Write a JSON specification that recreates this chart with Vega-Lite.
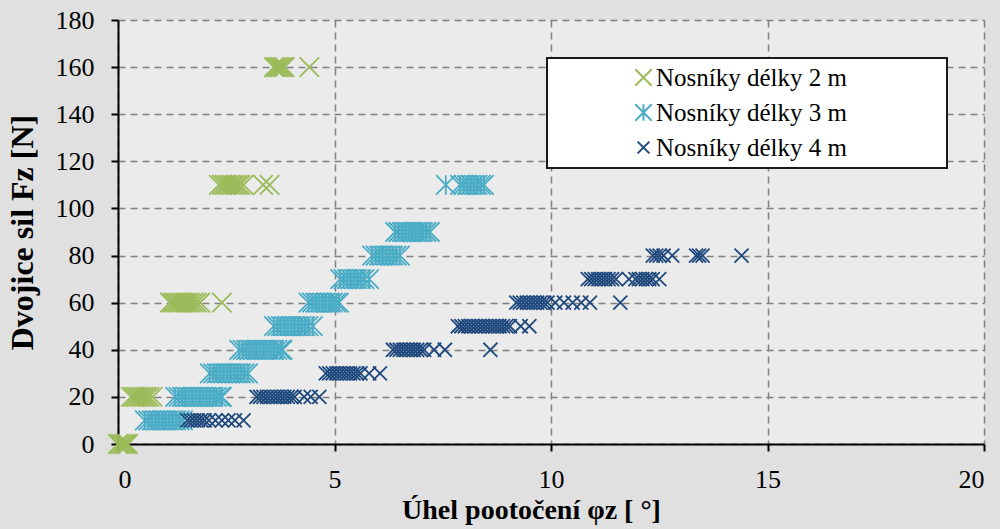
{
  "$schema": "https://vega.github.io/schema/vega-lite/v6.json",
  "width": 866,
  "height": 424,
  "autosize": {"type": "none"},
  "padding": {"left": 118, "top": 20, "right": 16, "bottom": 85},
  "background": "#e0e0e0",
  "datasets": {
    "pts": [
      {"s":"2","x":0,"y":0},{"s":"2","x":0.06,"y":0},{"s":"2","x":0.12,"y":0},{"s":"2","x":0.18,"y":0},{"s":"2","x":0.23,"y":0},
      {"s":"2","x":0.3,"y":20},{"s":"2","x":0.36,"y":20},{"s":"2","x":0.42,"y":20},{"s":"2","x":0.48,"y":20},{"s":"2","x":0.54,"y":20},{"s":"2","x":0.6,"y":20},{"s":"2","x":0.66,"y":20},{"s":"2","x":0.72,"y":20},{"s":"2","x":0.8,"y":20},
      {"s":"2","x":1.2,"y":60},{"s":"2","x":1.26,"y":60},{"s":"2","x":1.32,"y":60},{"s":"2","x":1.38,"y":60},{"s":"2","x":1.44,"y":60},{"s":"2","x":1.5,"y":60},{"s":"2","x":1.56,"y":60},{"s":"2","x":1.62,"y":60},{"s":"2","x":1.68,"y":60},{"s":"2","x":1.75,"y":60},{"s":"2","x":1.82,"y":60},{"s":"2","x":1.9,"y":60},{"s":"2","x":2.4,"y":60},
      {"s":"2","x":2.33,"y":110},{"s":"2","x":2.4,"y":110},{"s":"2","x":2.46,"y":110},{"s":"2","x":2.52,"y":110},{"s":"2","x":2.58,"y":110},{"s":"2","x":2.64,"y":110},{"s":"2","x":2.7,"y":110},{"s":"2","x":2.76,"y":110},{"s":"2","x":2.82,"y":110},{"s":"2","x":2.9,"y":110},{"s":"2","x":3.35,"y":110},{"s":"2","x":3.5,"y":110},
      {"s":"2","x":3.6,"y":160},{"s":"2","x":3.65,"y":160},{"s":"2","x":3.7,"y":160},{"s":"2","x":3.75,"y":160},{"s":"2","x":3.8,"y":160},{"s":"2","x":3.85,"y":160},{"s":"2","x":4.42,"y":160},

      {"s":"3","x":0.62,"y":10},{"s":"3","x":0.7,"y":10},{"s":"3","x":0.78,"y":10},{"s":"3","x":0.86,"y":10},{"s":"3","x":0.94,"y":10},{"s":"3","x":1.02,"y":10},{"s":"3","x":1.1,"y":10},{"s":"3","x":1.18,"y":10},{"s":"3","x":1.26,"y":10},{"s":"3","x":1.34,"y":10},{"s":"3","x":1.42,"y":10},{"s":"3","x":1.5,"y":10},
      {"s":"3","x":1.32,"y":20},{"s":"3","x":1.4,"y":20},{"s":"3","x":1.48,"y":20},{"s":"3","x":1.56,"y":20},{"s":"3","x":1.64,"y":20},{"s":"3","x":1.72,"y":20},{"s":"3","x":1.8,"y":20},{"s":"3","x":1.88,"y":20},{"s":"3","x":1.96,"y":20},{"s":"3","x":2.04,"y":20},{"s":"3","x":2.12,"y":20},{"s":"3","x":2.2,"y":20},{"s":"3","x":2.28,"y":20},{"s":"3","x":2.36,"y":20},{"s":"3","x":2.4,"y":20},
      {"s":"3","x":2.12,"y":30},{"s":"3","x":2.2,"y":30},{"s":"3","x":2.28,"y":30},{"s":"3","x":2.36,"y":30},{"s":"3","x":2.44,"y":30},{"s":"3","x":2.52,"y":30},{"s":"3","x":2.6,"y":30},{"s":"3","x":2.68,"y":30},{"s":"3","x":2.76,"y":30},{"s":"3","x":2.84,"y":30},{"s":"3","x":2.92,"y":30},{"s":"3","x":3.0,"y":30},
      {"s":"3","x":2.8,"y":40},{"s":"3","x":2.88,"y":40},{"s":"3","x":2.96,"y":40},{"s":"3","x":3.04,"y":40},{"s":"3","x":3.12,"y":40},{"s":"3","x":3.2,"y":40},{"s":"3","x":3.28,"y":40},{"s":"3","x":3.36,"y":40},{"s":"3","x":3.44,"y":40},{"s":"3","x":3.52,"y":40},{"s":"3","x":3.6,"y":40},{"s":"3","x":3.68,"y":40},{"s":"3","x":3.76,"y":40},{"s":"3","x":3.8,"y":40},
      {"s":"3","x":3.6,"y":50},{"s":"3","x":3.68,"y":50},{"s":"3","x":3.76,"y":50},{"s":"3","x":3.84,"y":50},{"s":"3","x":3.92,"y":50},{"s":"3","x":4.0,"y":50},{"s":"3","x":4.08,"y":50},{"s":"3","x":4.16,"y":50},{"s":"3","x":4.24,"y":50},{"s":"3","x":4.32,"y":50},{"s":"3","x":4.4,"y":50},{"s":"3","x":4.5,"y":50},
      {"s":"3","x":4.4,"y":60},{"s":"3","x":4.48,"y":60},{"s":"3","x":4.56,"y":60},{"s":"3","x":4.64,"y":60},{"s":"3","x":4.72,"y":60},{"s":"3","x":4.8,"y":60},{"s":"3","x":4.88,"y":60},{"s":"3","x":4.96,"y":60},{"s":"3","x":5.04,"y":60},{"s":"3","x":5.1,"y":60},
      {"s":"3","x":5.13,"y":70},{"s":"3","x":5.21,"y":70},{"s":"3","x":5.29,"y":70},{"s":"3","x":5.37,"y":70},{"s":"3","x":5.45,"y":70},{"s":"3","x":5.53,"y":70},{"s":"3","x":5.61,"y":70},{"s":"3","x":5.69,"y":70},{"s":"3","x":5.8,"y":70},
      {"s":"3","x":5.87,"y":80},{"s":"3","x":5.95,"y":80},{"s":"3","x":6.03,"y":80},{"s":"3","x":6.11,"y":80},{"s":"3","x":6.19,"y":80},{"s":"3","x":6.27,"y":80},{"s":"3","x":6.35,"y":80},{"s":"3","x":6.43,"y":80},{"s":"3","x":6.51,"y":80},
      {"s":"3","x":6.4,"y":90},{"s":"3","x":6.48,"y":90},{"s":"3","x":6.56,"y":90},{"s":"3","x":6.64,"y":90},{"s":"3","x":6.72,"y":90},{"s":"3","x":6.8,"y":90},{"s":"3","x":6.88,"y":90},{"s":"3","x":6.96,"y":90},{"s":"3","x":7.04,"y":90},{"s":"3","x":7.12,"y":90},{"s":"3","x":7.2,"y":90},
      {"s":"3","x":7.57,"y":110},{"s":"3","x":7.9,"y":110},{"s":"3","x":7.98,"y":110},{"s":"3","x":8.06,"y":110},{"s":"3","x":8.14,"y":110},{"s":"3","x":8.22,"y":110},{"s":"3","x":8.3,"y":110},{"s":"3","x":8.38,"y":110},{"s":"3","x":8.45,"y":110},

      {"s":"4","x":1.6,"y":10},{"s":"4","x":1.68,"y":10},{"s":"4","x":1.76,"y":10},{"s":"4","x":1.84,"y":10},{"s":"4","x":1.92,"y":10},{"s":"4","x":2.0,"y":10},{"s":"4","x":2.1,"y":10},{"s":"4","x":2.25,"y":10},{"s":"4","x":2.4,"y":10},{"s":"4","x":2.55,"y":10},{"s":"4","x":2.7,"y":10},{"s":"4","x":2.9,"y":10},
      {"s":"4","x":3.2,"y":20},{"s":"4","x":3.28,"y":20},{"s":"4","x":3.36,"y":20},{"s":"4","x":3.44,"y":20},{"s":"4","x":3.52,"y":20},{"s":"4","x":3.6,"y":20},{"s":"4","x":3.68,"y":20},{"s":"4","x":3.76,"y":20},{"s":"4","x":3.84,"y":20},{"s":"4","x":3.92,"y":20},{"s":"4","x":4.0,"y":20},{"s":"4","x":4.08,"y":20},{"s":"4","x":4.3,"y":20},{"s":"4","x":4.45,"y":20},{"s":"4","x":4.65,"y":20},
      {"s":"4","x":4.8,"y":30},{"s":"4","x":4.88,"y":30},{"s":"4","x":4.96,"y":30},{"s":"4","x":5.04,"y":30},{"s":"4","x":5.12,"y":30},{"s":"4","x":5.2,"y":30},{"s":"4","x":5.28,"y":30},{"s":"4","x":5.36,"y":30},{"s":"4","x":5.44,"y":30},{"s":"4","x":5.52,"y":30},{"s":"4","x":5.6,"y":30},{"s":"4","x":5.8,"y":30},{"s":"4","x":6.05,"y":30},
      {"s":"4","x":6.35,"y":40},{"s":"4","x":6.43,"y":40},{"s":"4","x":6.51,"y":40},{"s":"4","x":6.59,"y":40},{"s":"4","x":6.67,"y":40},{"s":"4","x":6.75,"y":40},{"s":"4","x":6.83,"y":40},{"s":"4","x":6.91,"y":40},{"s":"4","x":6.99,"y":40},{"s":"4","x":7.07,"y":40},{"s":"4","x":7.3,"y":40},{"s":"4","x":7.55,"y":40},{"s":"4","x":8.6,"y":40},
      {"s":"4","x":7.85,"y":50},{"s":"4","x":7.93,"y":50},{"s":"4","x":8.01,"y":50},{"s":"4","x":8.09,"y":50},{"s":"4","x":8.17,"y":50},{"s":"4","x":8.25,"y":50},{"s":"4","x":8.33,"y":50},{"s":"4","x":8.41,"y":50},{"s":"4","x":8.49,"y":50},{"s":"4","x":8.57,"y":50},{"s":"4","x":8.65,"y":50},{"s":"4","x":8.73,"y":50},{"s":"4","x":8.81,"y":50},{"s":"4","x":8.89,"y":50},{"s":"4","x":8.97,"y":50},{"s":"4","x":9.05,"y":50},{"s":"4","x":9.3,"y":50},{"s":"4","x":9.5,"y":50},
      {"s":"4","x":9.2,"y":60},{"s":"4","x":9.28,"y":60},{"s":"4","x":9.36,"y":60},{"s":"4","x":9.44,"y":60},{"s":"4","x":9.52,"y":60},{"s":"4","x":9.6,"y":60},{"s":"4","x":9.68,"y":60},{"s":"4","x":9.76,"y":60},{"s":"4","x":9.84,"y":60},{"s":"4","x":9.92,"y":60},{"s":"4","x":10.1,"y":60},{"s":"4","x":10.3,"y":60},{"s":"4","x":10.5,"y":60},{"s":"4","x":10.7,"y":60},{"s":"4","x":10.9,"y":60},{"s":"4","x":11.6,"y":60},
      {"s":"4","x":10.85,"y":70},{"s":"4","x":10.93,"y":70},{"s":"4","x":11.01,"y":70},{"s":"4","x":11.09,"y":70},{"s":"4","x":11.17,"y":70},{"s":"4","x":11.25,"y":70},{"s":"4","x":11.33,"y":70},{"s":"4","x":11.41,"y":70},{"s":"4","x":11.5,"y":70},{"s":"4","x":11.8,"y":70},{"s":"4","x":11.95,"y":70},{"s":"4","x":12.03,"y":70},{"s":"4","x":12.11,"y":70},{"s":"4","x":12.19,"y":70},{"s":"4","x":12.27,"y":70},{"s":"4","x":12.35,"y":70},{"s":"4","x":12.5,"y":70},
      {"s":"4","x":12.35,"y":80},{"s":"4","x":12.43,"y":80},{"s":"4","x":12.51,"y":80},{"s":"4","x":12.6,"y":80},{"s":"4","x":12.8,"y":80},{"s":"4","x":13.35,"y":80},{"s":"4","x":13.42,"y":80},{"s":"4","x":13.5,"y":80},{"s":"4","x":14.4,"y":80}
    ]
  },
  "data": {"name": "pts"},
  "mark": {"type": "point", "filled": false, "strokeWidth": 1.8, "opacity": 1, "size": 380},
  "encoding": {
    "x": {
      "field": "x", "type": "quantitative",
      "scale": {"domain": [0, 20], "nice": false, "zero": false},
      "axis": {"values": [0, 5, 10, 15, 20], "title": "Úhel pootočení φz [ °]", "labelPadding": 15, "titlePadding": 4, "titleFontSize": 28, "titleX": 413}
    },
    "y": {
      "field": "y", "type": "quantitative",
      "scale": {"domain": [0, 180], "nice": false},
      "axis": {"values": [0, 20, 40, 60, 80, 100, 120, 140, 160, 180], "title": "Dvojice sil Fz [N]", "labelPadding": 17, "titlePadding": 16, "titleFontSize": 32}
    },
    "color": {
      "field": "s", "type": "nominal",
      "scale": {"domain": ["2", "3", "4"], "range": ["#9bbb59", "#4bacc6", "#1f497d"]},
      "legend": {"title": null, "labelExpr": "'Nosníky délky ' + datum.label + ' m\u2003\u2003\u2003\u2002\u2009\u200b'"}
    },
    "shape": {
      "field": "s", "type": "nominal",
      "scale": {"domain": ["2", "3", "4"], "range": ["M-1,-1L1,1M1,-1L-1,1", "M-1,-1L1,1M1,-1L-1,1M0,-1L0,1", "M-0.72,-0.72L0.72,0.72M0.72,-0.72L-0.72,0.72"]},
      "legend": {"title": null, "labelExpr": "'Nosníky délky ' + datum.label + ' m\u2003\u2003\u2003\u2002\u2009\u200b'"}
    }
  },
  "config": {
    "view": {"stroke": null, "fill": "#ebebeb"},
    "axis": {
      "domainColor": "#000000", "domainWidth": 2,
      "tickColor": "#000000", "tickWidth": 2, "tickSize": 7,
      "grid": true, "gridColor": "#808080", "gridDash": [7, 5], "gridWidth": 1.5,
      "labelFont": "Liberation Serif", "labelFontSize": 26, "labelColor": "#000000",
      "titleFont": "Liberation Serif", "titleFontWeight": "bold", "titleColor": "#000000"
    },
    "legend": {
      "orient": "none", "legendX": 429, "legendY": 38,
      "fillColor": "#ffffff", "strokeColor": "#1a1a1a", "strokeWidth": 2,
      "padding": 7, "rowPadding": 9,
      "labelFont": "Liberation Serif", "labelFontSize": 25, "labelColor": "#000000", "labelLimit": 500,
      "labelOffset": 0, "symbolOffset": 77, "symbolSize": 270, "symbolStrokeWidth": 2
    }
  }
}
